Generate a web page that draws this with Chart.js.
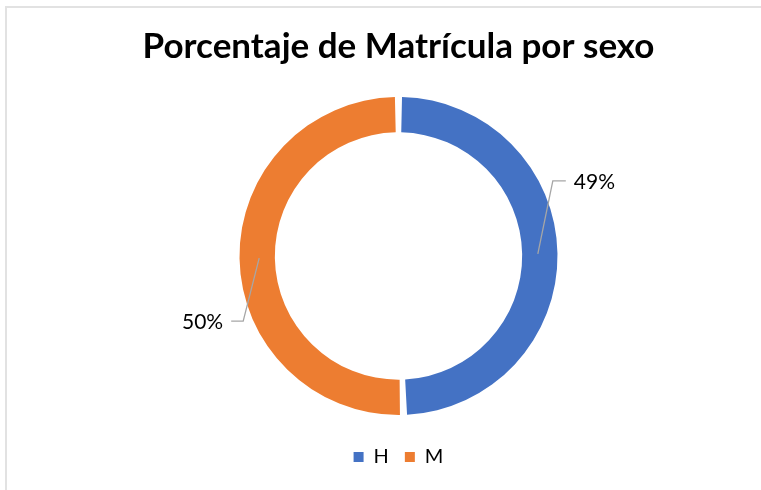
<!DOCTYPE html>
<html>
<head>
<meta charset="utf-8">
<script src="https://cdn.jsdelivr.net/npm/chart.js@4/dist/chart.umd.min.js"></script>
<style>
  html, body { margin: 0; padding: 0; background: #fff; overflow: hidden; }
  #wrap { position: relative; width: 761px; height: 490px; }
  #frame { position: absolute; left: 5px; top: 6px; right: -10px; bottom: -10px;
           border-left: 2px solid #e2e2e2; border-top: 2px solid #e2e2e2; }
  #c { position: absolute; left: 0; top: 0; }
</style>
</head>
<body>
<div id="wrap">
  <div id="frame"></div>
  <canvas id="c" width="761" height="490"></canvas>
</div>
<script>
// ---- data ----
const categories = ['H', 'M'];
const values = [49, 50];
const percentLabels = ['49%', '50%'];
const colors = ['#4472C4', '#ED7D31'];
const titleText = 'Porcentaje de Matrícula por sexo';

// ---- label leader-line style (offsets from slice anchor) ----
const leaderStyle = [
  { dx: 15, dy: -73, hx: 13, gap: 8, align: 'left' },
  { dx: -16, dy: 63, hx: -12, gap: 8, align: 'right' }
];

const leaderPlugin = {
  id: 'leaders',
  afterDatasetsDraw(chart) {
    const ctx = chart.ctx;
    const meta = chart.getDatasetMeta(0);
    meta.data.forEach((arc, i) => {
      const p = arc.getProps(['x', 'y', 'startAngle', 'endAngle', 'innerRadius', 'outerRadius'], true);
      const mid = (p.startAngle + p.endAngle) / 2;
      const r = (p.innerRadius + p.outerRadius) / 2;
      const ax = p.x + Math.cos(mid) * r;
      const ay = p.y + Math.sin(mid) * r;
      const s = leaderStyle[i];
      const ex = ax + s.dx, ey = ay + s.dy;
      const hx = ex + s.hx;
      ctx.save();
      ctx.strokeStyle = '#a6a6a6';
      ctx.lineWidth = 1.3;
      ctx.beginPath();
      ctx.moveTo(ax, ay);
      ctx.lineTo(ex, ey);
      ctx.lineTo(hx, ey);
      ctx.stroke();
      ctx.fillStyle = '#000';
      ctx.font = '21px Lato';
      ctx.textBaseline = 'middle';
      ctx.textAlign = s.align;
      const tx = s.align === 'left' ? hx + s.gap : hx - s.gap;
      ctx.fillText(percentLabels[i], tx, ey + 1);
      ctx.restore();
    });
  }
};

new Chart(document.getElementById('c'), {
  type: 'doughnut',
  data: {
    labels: categories,
    datasets: [{
      data: values,
      backgroundColor: colors,
      borderWidth: 0,
      spacing: 4,
      radius: 157,
      cutout: '77.5%'
    }]
  },
  options: {
    responsive: false,
    animation: false,
    layout: { padding: { left: 36, right: 0, top: 0, bottom: 13 } },
    plugins: {
      title: {
        display: true,
        text: titleText,
        color: '#000',
        font: { family: 'Lato', size: 35, weight: 'bold' },
        padding: { top: 26, bottom: 13 }
      },
      legend: {
        position: 'bottom',
        labels: {
          boxWidth: 10, boxHeight: 10, padding: 16,
          color: '#000',
          font: { family: 'Lato', size: 20 }
        }
      },
      tooltip: { enabled: false }
    }
  },
  plugins: [leaderPlugin]
});
</script>
</body>
</html>
